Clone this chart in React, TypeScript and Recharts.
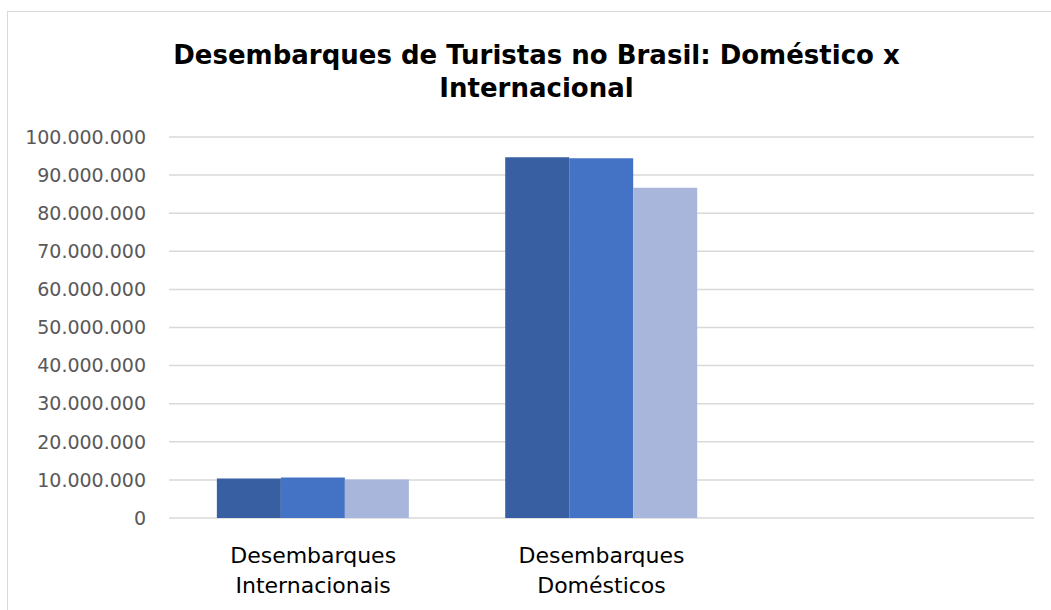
import React from "react";
import { BarChart, Bar, XAxis, YAxis, CartesianGrid } from "recharts";

const categories = ["Desembarques Internacionais", "Desembarques Domésticos", ""];
const serie1 = [10400000, 94700000, null];
const serie2 = [10600000, 94400000, null];
const serie3 = [10100000, 86700000, null];
const yTicks = [0, 10000000, 20000000, 30000000, 40000000, 50000000, 60000000, 70000000, 80000000, 90000000, 100000000];
const titleLines = ["Desembarques de Turistas no Brasil: Doméstico x", "Internacional"];

const data = categories.map((c, i) => ({
  name: c,
  s1: serie1[i],
  s2: serie2[i],
  s3: serie3[i],
}));

const fmt = (v: number) => String(v).replace(/\B(?=(\d{3})+(?!\d))/g, ".");

const XTick = (props: any) => {
  const { x, y, payload } = props;
  const words = String(payload.value).split(" ").filter((w) => w.length);
  return (
    <text x={x} y={y} textAnchor="middle" fill="#000000" fontFamily="DejaVu Sans" fontSize={22}>
      {words.map((w, i) => (
        <tspan key={i} x={x} y={y + 37 + i * 30}>
          {w}
        </tspan>
      ))}
    </text>
  );
};

export default function App() {
  return (
    <div style={{ position: "absolute", left: 0, top: 0, width: 1051, height: 610, overflow: "hidden", background: "#fff" }}>
      <div
        style={{
          position: "absolute",
          left: 7,
          top: 11,
          width: 1200,
          height: 800,
          border: "1.5px solid #d9d9d9",
          boxSizing: "border-box",
        }}
      />
      <div
        style={{
          position: "absolute",
          left: 36.5,
          top: 38.5,
          width: 1000,
          textAlign: "center",
          fontFamily: "DejaVu Sans",
          fontWeight: "bold",
          fontSize: 26,
          lineHeight: "33px",
          color: "#000",
        }}
      >
        {titleLines.map((t, i) => (
          <div key={i}>{t}</div>
        ))}
      </div>
      <div style={{ position: "absolute", left: 0, top: 0 }}>
        <BarChart
          width={1051}
          height={610}
          data={data}
          margin={{ top: 137, right: 17, bottom: 62, left: 0 }}
          barCategoryGap="16.6%"
          barGap={0}
        >
          <CartesianGrid vertical={false} stroke="#d9d9d9" strokeWidth={1.5} />
          <XAxis dataKey="name" height={30} axisLine={false} tickLine={false} tick={<XTick />} interval={0} />
          <YAxis
            width={169}
            domain={[0, 100000000]}
            ticks={yTicks}
            tickFormatter={fmt}
            axisLine={false}
            tickLine={false}
            tickSize={0}
            tickMargin={23}
            tick={{ fill: "#595959", fontSize: 19, fontFamily: "DejaVu Sans" }}
            interval={0}
          />
          <Bar dataKey="s1" name="Série 1" fill="#375FA2" isAnimationActive={false} />
          <Bar dataKey="s2" name="Série 2" fill="#4472C4" isAnimationActive={false} />
          <Bar dataKey="s3" name="Série 3" fill="#A8B6DC" isAnimationActive={false} />
        </BarChart>
      </div>
    </div>
  );
}
